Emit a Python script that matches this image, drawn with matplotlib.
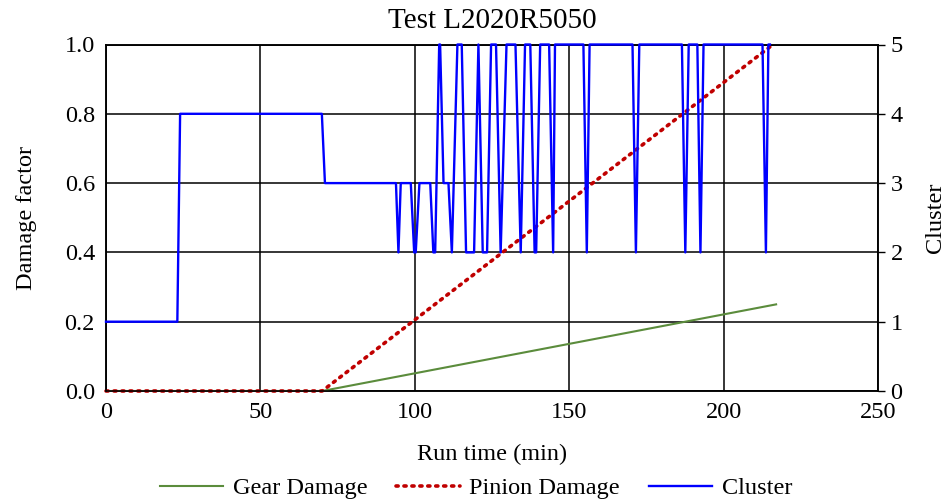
import matplotlib
matplotlib.use("Agg")
import matplotlib.pyplot as plt

plt.rcParams['font.family'] = ['Liberation Serif', 'DejaVu Serif']

title = "Test L2020R5050"

gear_time = [0, 70, 217]
gear_damage = [0.0, 0.0, 0.25]

pinion_time = [0, 70, 216]
pinion_damage = [0.0, 0.0, 1.0]

cluster_time = [0, 23.1, 24.0, 69.9, 70.9, 93.9, 94.7, 95.45, 98.7, 99.8, 100.3,
                101.5, 105.0, 106.0, 106.6, 107.9, 108.2, 109.3, 110.9, 112.0,
                113.8, 115.2, 116.6, 119.2, 120.6, 122.0, 123.4, 124.7, 126.3,
                127.8, 129.7, 132.6, 134.3, 135.7, 137.4, 138.8, 139.3, 140.6,
                143.5, 144.8, 145.4, 154.6, 155.7, 156.6, 170.5, 171.6, 172.7,
                186.5, 187.6, 188.7, 191.5, 192.5, 193.5, 212.6, 213.7, 214.5, 215.0]
cluster_value = [1, 1, 4, 4, 3, 3, 2, 3, 3, 2, 2,
                 3, 3, 2, 2, 5, 5, 3, 3, 2,
                 5, 5, 2, 2, 5, 2, 2, 5, 5,
                 2, 5, 5, 2, 5, 5, 2, 2, 5,
                 5, 2, 5, 5, 2, 5, 5, 2, 5,
                 5, 2, 5, 5, 2, 5, 5, 2, 5, 5]

x_ticks = [0, 50, 100, 150, 200, 250]
y_ticks = [0.0, 0.2, 0.4, 0.6, 0.8, 1.0]
y2_ticks = [0, 1, 2, 3, 4, 5]

fig = plt.figure(figsize=(9.52, 5.01), dpi=100)
ax = fig.add_axes([106/952, 1-391/501, (878-106)/952, (391-44.5)/501])
ax2 = ax.twinx()

fs = 17.5
gl, = ax.plot(gear_time, gear_damage, color='#5b8c3c', lw=1.5, label='Gear Damage', zorder=3)
pl, = ax.plot(pinion_time, pinion_damage, color='#c00000', lw=2.6, linestyle=(0, (0.6, 1.6)),
              dash_capstyle='round', label='Pinion Damage', zorder=4, clip_on=False)
cl, = ax2.plot(cluster_time, cluster_value, color='#0000ff', lw=1.7, label='Cluster',
               zorder=5, clip_on=False)

ax.set_xlim(0, 250)
ax.set_ylim(0, 1.0)
ax2.set_ylim(0, 5)
ax.set_xticks(x_ticks)
ax.set_yticks(y_ticks)
ax2.set_yticks(y2_ticks)
ax.set_xticklabels([str(v) for v in x_ticks], fontsize=fs)
ax.set_yticklabels([f"{v:.1f}" for v in y_ticks], fontsize=fs)
ax2.set_yticklabels([str(v) for v in y2_ticks], fontsize=fs)

ax.grid(True, color='black', lw=1.1)
ax.set_axisbelow(True)
ax.tick_params(axis='both', length=0, pad=8)
ax2.tick_params(axis='y', length=5, width=1, pad=4, direction='out')
for sp in list(ax.spines.values()) + list(ax2.spines.values()):
    sp.set_color('black')
    sp.set_linewidth(1.1)
    sp.set_zorder(1)

ax.set_title(title, fontsize=21, pad=12)
ax.set_xlabel("Run time (min)", fontsize=fs, labelpad=15)
ax.set_ylabel("Damage factor", fontsize=fs, labelpad=20)
ax2.set_ylabel("Cluster", fontsize=fs, labelpad=16)

fig.legend(handles=[gl, pl, cl], loc='lower center', bbox_to_anchor=(0.5, -0.04),
           ncol=3, frameon=False, fontsize=fs, handlelength=2.6, columnspacing=1.2,
           handletextpad=0.4)

fig.savefig("out.png", dpi=100)
